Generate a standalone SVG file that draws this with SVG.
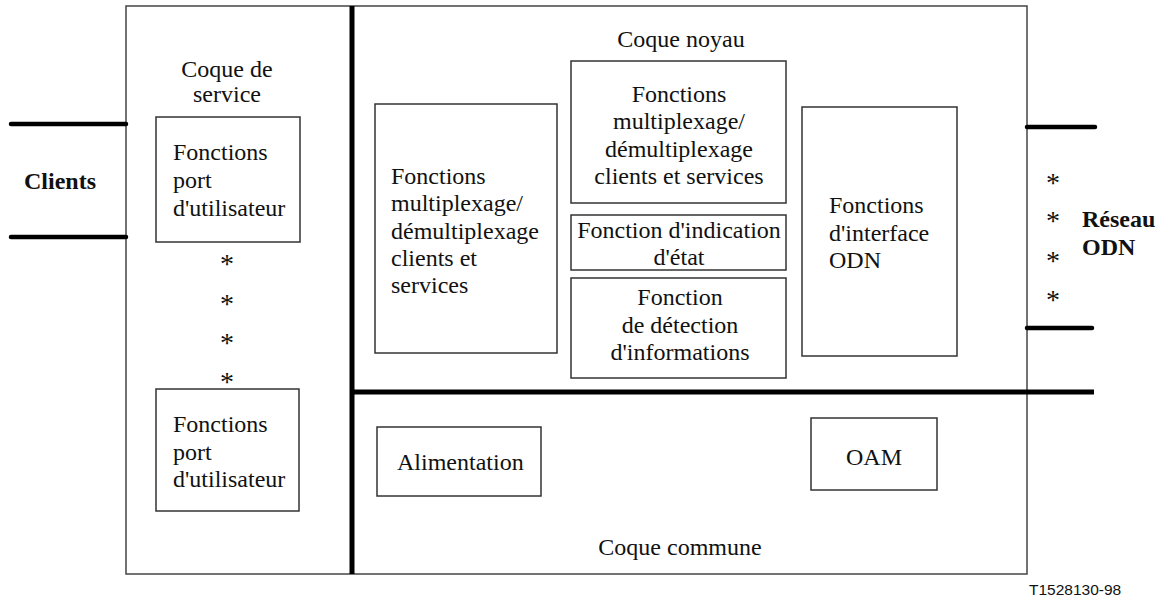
<svg xmlns="http://www.w3.org/2000/svg" width="1159" height="600" viewBox="0 0 1159 600">
  <style>
    .box { fill: #fff; stroke: #333; stroke-width: 1.5; }
    .frame { fill: #fff; stroke: #444; stroke-width: 1.5; }
    .bar { stroke: #000; stroke-width: 5; fill: none; }
    .port { stroke: #000; stroke-width: 4.5; stroke-linecap: round; fill: none; }
    .mid { text-anchor: middle; }
    .bold { font-weight: bold; }
    .star { font-size: 28px; text-anchor: middle; }
  </style>

  <!-- equipment outline -->
  <rect class="frame" x="126" y="6" width="901" height="568"/>

  <!-- port lines and shell separators -->
  <g id="connectors">
    <line class="port" x1="11" y1="124" x2="126" y2="124"/>
    <line class="port" x1="11" y1="237" x2="126" y2="237"/>
    <line class="port" x1="1027" y1="127" x2="1095" y2="127"/>
    <line class="port" x1="1027" y1="328" x2="1092" y2="328"/>
    <line class="bar" x1="352" y1="6" x2="352" y2="574"/>
    <line class="bar" x1="350" y1="392" x2="1094" y2="392"/>
  </g>

  <g font-family="Liberation Serif, Tinos, Noto Serif, DejaVu Serif, Times New Roman, Times, serif" font-size="24" fill="#111">
    <!-- outside labels -->
    <g id="clients">
      <text class="bold" x="24" y="189">Clients</text>
    </g>
    <g id="reseau-odn">
      <text class="star" x="1053" y="192">*</text>
      <text class="star" x="1053" y="230">*</text>
      <text class="star" x="1053" y="270">*</text>
      <text class="star" x="1053" y="309">*</text>
      <text class="bold" x="1082" y="227">Réseau</text>
      <text class="bold" x="1082" y="255">ODN</text>
    </g>

    <!-- service shell -->
    <g id="coque-service">
      <text class="mid" x="227" y="77">Coque de</text>
      <text class="mid" x="227" y="102">service</text>
      <text class="star" x="227" y="273">*</text>
      <text class="star" x="227" y="313">*</text>
      <text class="star" x="227" y="352">*</text>
      <text class="star" x="227" y="391">*</text>
    </g>
    <g id="port-utilisateur-1">
      <rect class="box" x="156" y="117" width="144" height="125"/>
      <text x="173" y="160">Fonctions</text>
      <text x="173" y="188">port</text>
      <text x="173" y="216">d'utilisateur</text>
    </g>
    <g id="port-utilisateur-2">
      <rect class="box" x="156" y="389" width="143" height="122"/>
      <text x="173" y="432">Fonctions</text>
      <text x="173" y="460">port</text>
      <text x="173" y="487">d'utilisateur</text>
    </g>

    <!-- core shell -->
    <g id="coque-noyau">
      <text class="mid" x="681" y="47">Coque noyau</text>
    </g>
    <g id="mux-gauche">
      <rect class="box" x="375" y="104" width="182" height="249"/>
      <text x="391" y="184">Fonctions</text>
      <text x="391" y="211">multiplexage/</text>
      <text x="391" y="239">démultiplexage</text>
      <text x="391" y="266">clients et</text>
      <text x="391" y="293">services</text>
    </g>
    <g id="mux-centre">
      <rect class="box" x="571" y="61" width="215" height="142"/>
      <text class="mid" x="679" y="102">Fonctions</text>
      <text class="mid" x="679" y="129">multiplexage/</text>
      <text class="mid" x="679" y="157">démultiplexage</text>
      <text class="mid" x="679" y="184">clients et services</text>
    </g>
    <g id="indication-etat">
      <rect class="box" x="571" y="215" width="215" height="55"/>
      <text class="mid" x="679" y="238">Fonction d'indication</text>
      <text class="mid" x="679" y="265">d'état</text>
    </g>
    <g id="detection-informations">
      <rect class="box" x="571" y="278" width="215" height="100"/>
      <text class="mid" x="680" y="305">Fonction</text>
      <text class="mid" x="680" y="333">de détection</text>
      <text class="mid" x="680" y="360">d'informations</text>
    </g>
    <g id="interface-odn">
      <rect class="box" x="802" y="107" width="155" height="249"/>
      <text x="829" y="213">Fonctions</text>
      <text x="829" y="241">d'interface</text>
      <text x="829" y="268">ODN</text>
    </g>

    <!-- common shell -->
    <g id="alimentation">
      <rect class="box" x="377" y="427" width="164" height="69"/>
      <text x="397" y="470">Alimentation</text>
    </g>
    <g id="oam">
      <rect class="box" x="811" y="418" width="126" height="72"/>
      <text class="mid" x="874" y="465">OAM</text>
    </g>
    <g id="coque-commune">
      <text class="mid" x="680" y="555">Coque commune</text>
    </g>
  </g>

  <text x="1029" y="595" font-family="Liberation Sans, Arial, sans-serif" font-size="15.5" fill="#111">T1528130-98</text>
</svg>
